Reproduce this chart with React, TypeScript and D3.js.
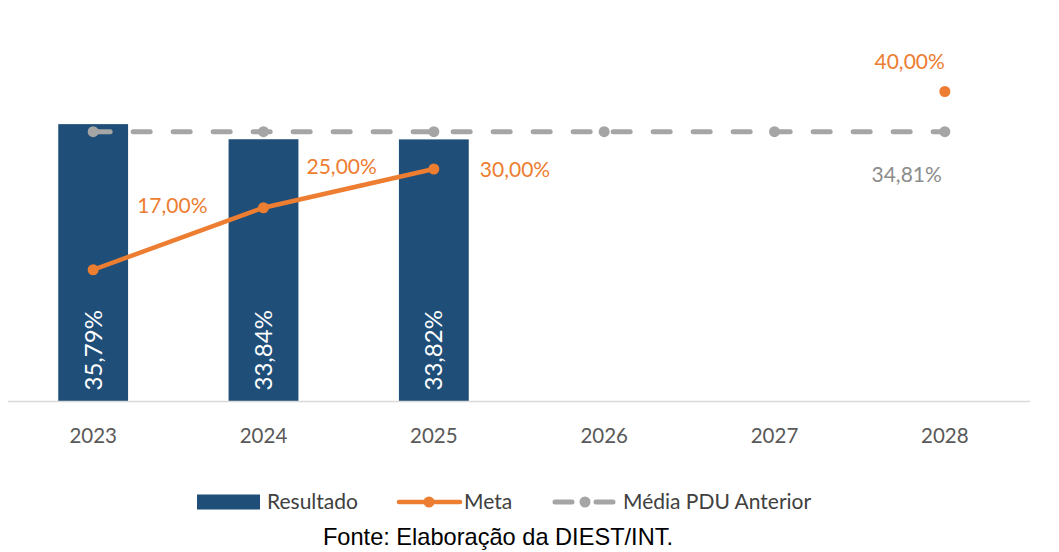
import React, { useRef, useEffect } from "react";
import * as d3 from "d3";

const years = ["2023", "2024", "2025", "2026", "2027", "2028"];
const resultado: (number | null)[] = [35.79, 33.84, 33.82, null, null, null];
const meta: (number | null)[] = [17, 25, 30, null, null, 40];
const mediaAnterior: number[] = [34.81, 34.81, 34.81, 34.81, 34.81, 34.81];

const metaLabels = ["17,00%", "25,00%", "30,00%", "", "", "40,00%"];
const resultadoLabels = ["35,79%", "33,84%", "33,82%", "", "", ""];
const mediaLabel = "34,81%";
const legendNames = ["Resultado", "Meta", "Média PDU Anterior"];
const fonte = "Fonte: Elaboração da DIEST/INT.";

// label nudges (Excel had them hand placed)
const metaLabelPos: [number, number, string][] = [
  [44, -64, "start"],
  [43, -41, "start"],
  [46, 1, "start"],
  [0, 0, "start"],
  [0, 0, "start"],
  [0, -30, "end"],
];

const BLUE = "#1F4E79";
const ORANGE = "#ED7D31";
const GRAY = "#A5A5A5";
const FONT = "Lato, 'Open Sans', sans-serif";

const App: React.FC = () => {
  const svgRef = useRef<SVGSVGElement>(null);

  useEffect(() => {
    const svg = d3.select(svgRef.current);
    svg.selectAll("*").remove();

    const x = d3.scaleBand<string>().domain(years).range([8, 1030]).padding(0);
    const cx = (d: string) => (x(d) as number) + x.bandwidth() / 2;
    const barW = x.bandwidth() * 0.41;
    const y = d3.scaleLinear().domain([0, 50]).range([401.5, 401.5 - 50 * 7.75]);

    // bars
    svg.append("g")
      .selectAll("rect")
      .data(years.map((yr, i) => ({ yr, v: resultado[i], i })).filter(d => d.v !== null))
      .enter()
      .append("rect")
      .attr("x", d => cx(d.yr) - barW / 2)
      .attr("width", barW)
      .attr("y", d => y(d.v as number))
      .attr("height", d => y(0) - y(d.v as number))
      .attr("fill", BLUE);

    // axis line
    svg.append("line")
      .attr("x1", x.range()[0]).attr("x2", x.range()[1])
      .attr("y1", y(0)).attr("y2", y(0))
      .attr("stroke", "#D9D9D9").attr("stroke-width", 1.5);

    // year labels
    svg.append("g")
      .selectAll("text")
      .data(years)
      .enter()
      .append("text")
      .attr("x", d => cx(d))
      .attr("y", y(0) + 41)
      .attr("text-anchor", "middle")
      .style("font-family", FONT)
      .style("font-size", "20.5px")
      .attr("fill", "#595959")
      .text(d => d);

    // media line (dashed)
    const mediaLine = d3.line<number>()
      .x((_, i) => cx(years[i]))
      .y(d => y(d));
    svg.append("path")
      .datum(mediaAnterior)
      .attr("d", mediaLine)
      .attr("fill", "none")
      .attr("stroke", GRAY)
      .attr("stroke-width", 5)
      .attr("stroke-linecap", "round")
      .attr("stroke-dasharray", "17 23");
    svg.append("g")
      .selectAll("circle")
      .data(mediaAnterior)
      .enter()
      .append("circle")
      .attr("cx", (_, i) => cx(years[i]))
      .attr("cy", d => y(d))
      .attr("r", 5.5)
      .attr("fill", GRAY);

    // meta line
    const metaLine = d3.line<number | null>()
      .defined(d => d !== null)
      .x((_, i) => cx(years[i]))
      .y(d => y(d as number));
    svg.append("path")
      .datum(meta)
      .attr("d", metaLine)
      .attr("fill", "none")
      .attr("stroke", ORANGE)
      .attr("stroke-width", 4.5)
      .attr("stroke-linecap", "round");
    svg.append("g")
      .selectAll("circle")
      .data(meta.map((v, i) => ({ v, i })).filter(d => d.v !== null))
      .enter()
      .append("circle")
      .attr("cx", d => cx(years[d.i]))
      .attr("cy", d => y(d.v as number))
      .attr("r", 5.5)
      .attr("fill", ORANGE);

    // meta labels
    svg.append("g")
      .selectAll("text")
      .data(meta.map((v, i) => ({ v, i })).filter(d => d.v !== null))
      .enter()
      .append("text")
      .attr("x", d => cx(years[d.i]) + metaLabelPos[d.i][0])
      .attr("y", d => y(d.v as number) + metaLabelPos[d.i][1])
      .attr("dy", "0.35em")
      .attr("text-anchor", d => metaLabelPos[d.i][2])
      .style("font-family", FONT)
      .style("font-size", "21px")
      .attr("fill", ORANGE)
      .text(d => metaLabels[d.i]);

    // media label at last point
    const last = years.length - 1;
    svg.append("text")
      .attr("x", cx(years[last]) - 3)
      .attr("y", y(mediaAnterior[last]) + 43)
      .attr("dy", "0.35em")
      .attr("text-anchor", "end")
      .style("font-family", FONT)
      .style("font-size", "21px")
      .attr("fill", "#8C8C8C")
      .text(mediaLabel);

    // bar value labels (rotated)
    svg.append("g")
      .selectAll("text")
      .data(years.map((yr, i) => ({ yr, i })).filter(d => resultado[d.i] !== null))
      .enter()
      .append("text")
      .attr("transform", d => `translate(${cx(d.yr)},${y(0) - 11}) rotate(-90)`)
      .attr("dy", "0.35em")
      .attr("text-anchor", "start")
      .style("font-family", FONT)
      .style("font-size", "24px")
      .attr("fill", "#FFFFFF")
      .text(d => resultadoLabels[d.i]);

    // legend
    const lg = svg.append("g");
    const ly = 502;
    lg.append("rect").attr("x", 197).attr("y", ly - 7.5).attr("width", 63).attr("height", 15).attr("fill", BLUE);
    lg.append("line").attr("x1", 399).attr("x2", 460).attr("y1", ly).attr("y2", ly)
      .attr("stroke", ORANGE).attr("stroke-width", 4.5).attr("stroke-linecap", "round");
    lg.append("circle").attr("cx", 429).attr("cy", ly).attr("r", 5.5).attr("fill", ORANGE);
    lg.append("line").attr("x1", 555).attr("x2", 613).attr("y1", ly).attr("y2", ly)
      .attr("stroke", GRAY).attr("stroke-width", 5).attr("stroke-linecap", "round")
      .attr("stroke-dasharray", "17 24");
    lg.append("circle").attr("cx", 585).attr("cy", ly).attr("r", 5.5).attr("fill", GRAY);

    const legendX = [267, 464, 623];
    lg.selectAll("text.leg")
      .data(legendNames)
      .enter()
      .append("text")
      .attr("class", "leg")
      .attr("x", (_, i) => legendX[i])
      .attr("y", ly)
      .attr("dy", "0.35em")
      .style("font-family", FONT)
      .style("font-size", "21px")
      .attr("fill", "#404040")
      .text(d => d);

    // source
    svg.append("text")
      .attr("x", 498)
      .attr("y", 545)
      .attr("text-anchor", "middle")
      .style("font-family", "'Liberation Sans', Arial, sans-serif")
      .style("font-size", "23.6px")
      .attr("fill", "#000")
      .text(fonte);
  }, []);

  return (
    <div style={{ position: "absolute", left: 0, top: 0 }}>
      <svg ref={svgRef} width={1059} height={552} style={{ display: "block", background: "#fff" }} />
    </div>
  );
};

export default App;
